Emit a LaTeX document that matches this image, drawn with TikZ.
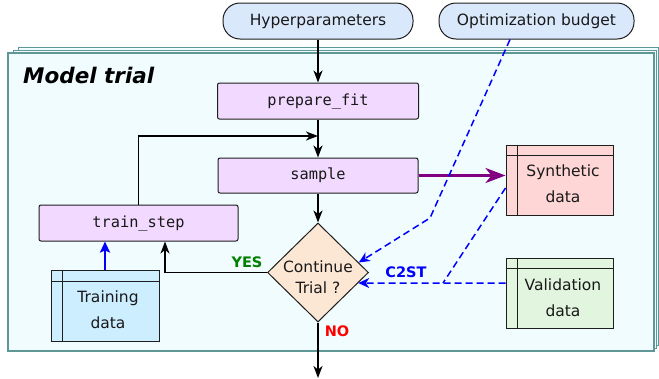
\documentclass[tikz,border=0pt]{standalone}
\usepackage{fontspec}
\setmainfont{DejaVu Sans}
\setmonofont{DejaVu Sans Mono}
\usetikzlibrary{arrows.meta,shapes.geometric,calc}
\definecolor{hypfill}{RGB}{218,232,252}
\definecolor{funcfill}{RGB}{242,217,255}
\definecolor{diafill}{RGB}{252,230,212}
\definecolor{framefill}{RGB}{240,252,254}
\definecolor{framedraw}{RGB}{95,150,150}
\definecolor{trainfill}{RGB}{204,238,255}
\definecolor{synfill}{RGB}{255,214,214}
\definecolor{valfill}{RGB}{225,245,223}
\definecolor{edgegray}{RGB}{30,30,30}
\definecolor{yesgreen}{RGB}{0,128,0}
\definecolor{purp}{RGB}{128,0,128}
\tikzset{
  inputnode/.style={draw=edgegray, fill=hypfill, line width=1pt, rounded corners=17pt,
    minimum height=36pt, inner sep=0pt, text=black!90, font=\fontsize{15.5}{18}\selectfont},
  funcbox/.style={draw=edgegray, fill=funcfill, line width=1pt, rounded corners=2pt,
    inner sep=0pt, text=black!90, font=\ttfamily\fontsize{15.3}{18}\selectfont},
  decision/.style={diamond, draw=edgegray, fill=diafill, line width=1pt, inner sep=0pt,
    minimum width=101pt, minimum height=99pt},
  storebox/.style={draw=edgegray, line width=1pt, inner sep=0pt},
  storetext/.style={align=center, font=\fontsize{15.5}{26}\selectfont, text=black!90},
  arr/.style={line width=1.5pt, -{Stealth[length=12pt,width=9pt,inset=3.5pt]}},
  bluearr/.style={blue, line width=2.5pt, -{Stealth[length=11pt,width=10pt,inset=2pt]}},
  purparr/.style={purp, line width=3pt, -{Stealth[length=20pt,width=15pt,inset=6pt]}},
  dasharr/.style={blue, line width=1.5pt, dash pattern=on 7pt off 4pt,
    -{Stealth[length=11pt,width=10pt,inset=3.5pt]}},
  dashline/.style={blue, line width=1.5pt, dash pattern=on 7pt off 4pt},
  lbl/.style={font=\bfseries\fontsize{14.5}{16}\selectfont, inner sep=0pt}
}
\begin{document}
\begin{tikzpicture}[x=1pt,y=-1pt]
\useasboundingbox (0,0) rectangle (659,378);
% stacked frame
\filldraw[draw=framedraw, fill=framefill, line width=1pt] (18,47) rectangle (658,345);
\filldraw[draw=framedraw, fill=framefill, line width=1pt] (13,50) rectangle (656,348);
\filldraw[draw=framedraw, fill=framefill, line width=1.2pt] (8,53) rectangle (654,351);
\node[anchor=base west, inner sep=0pt, font=\bfseries\itshape\fontsize{21.5}{24}\selectfont] (title) at (23,83) {Model trial};

% input nodes
\node[inputnode, minimum width=190pt] (hyp) at (318,21) {Hyperparameters};
\node[inputnode, minimum width=195pt] (opt) at (536.5,21) {Optimization budget};

% function boxes
\node[funcbox, minimum width=201pt, minimum height=36pt] (prep) at (318,101) {prepare\_fit};
\node[funcbox, minimum width=200pt, minimum height=35pt] (samp) at (318,175.5) {sample};
\node[funcbox, minimum width=199pt, minimum height=36pt] (train) at (138.5,223) {train\_step};

% decision
\node[decision] (cont) at (318,272.5) {};
\node[align=center, font=\fontsize{15.5}{21}\selectfont, text=black!90, inner sep=0pt] (conttext) at (318,277) {Continue\\Trial ?};

% storage nodes
\node[storebox, fill=trainfill, minimum width=108pt, minimum height=71pt] (trainD) at (105,305.5) {};
\draw[edgegray, line width=1pt] ($(trainD.north west)+(12,0)$) -- ($(trainD.south west)+(12,0)$);
\draw[edgegray, line width=1pt] ($(trainD.north west)+(0,12)$) -- ($(trainD.north east)+(0,12)$);
\node[storetext] (trainT) at (108,309.5) {Training\\data};

\node[storebox, fill=synfill, minimum width=107pt, minimum height=70pt] (synD) at (559.5,180) {};
\draw[edgegray, line width=1pt] ($(synD.north west)+(12,0)$) -- ($(synD.south west)+(12,0)$);
\draw[edgegray, line width=1pt] ($(synD.north west)+(0,11)$) -- ($(synD.north east)+(0,11)$);
\node[storetext] (synT) at (563,184) {Synthetic\\data};

\node[storebox, fill=valfill, minimum width=107pt, minimum height=70pt] (valD) at (559.5,293) {};
\draw[edgegray, line width=1pt] ($(valD.north west)+(12,0)$) -- ($(valD.south west)+(12,0)$);
\draw[edgegray, line width=1pt] ($(valD.north west)+(0,11)$) -- ($(valD.north east)+(0,11)$);
\node[storetext] (valT) at (563,298) {Validation\\data};

% black connectors
\draw[arr] (hyp.south) -- (prep.north);
\draw[arr] (prep.south) -- (samp.north);
\coordinate (loopc) at (318,136);
\draw[arr] (train.north) |- (loopc);
\draw[arr] (samp.south) -- (cont.north);
\draw[arr] (cont.west) -| ([xshift=26.5pt]train.south);
\node[lbl, text=yesgreen] (yes) at (247,262) {YES};
\coordinate (exitc) at (318,378);
\draw[arr] (cont.south) -- (exitc);
\node[lbl, text=red] (no) at (337,331) {NO};

% coloured connectors
\draw[bluearr] (trainD.north) -- (trainD.north |- train.south);
\draw[purparr] (samp.east) -- (synD.west |- samp.east);

% dashed connectors
\coordinate (ob1) at (430,218);
\draw[dasharr] ([xshift=-26.5pt]opt.south) -- (ob1) -- ($(cont.north)!0.8!(cont.east)$);
\coordinate (cj) at (443,283);
\draw[dashline] ($(synD.west)+(0,8)$) -- (cj);
\draw[dasharr] (valD.west |- cj) -- (cj) -- ($(cont.east)!0.21!(cont.south)$);
\node[lbl, text=blue] (c2st) at (406,272) {C2ST};
\end{tikzpicture}
\end{document}
